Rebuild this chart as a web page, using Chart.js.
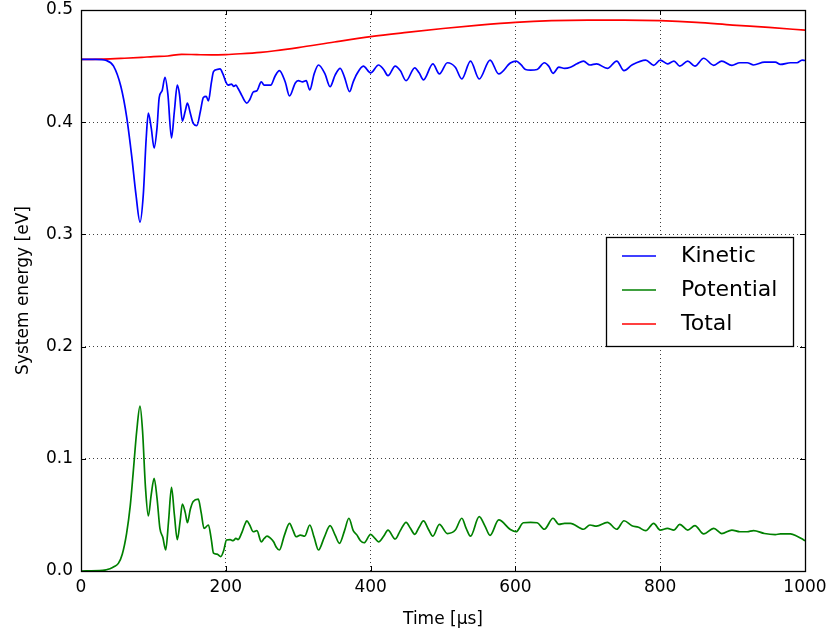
<!DOCTYPE html>
<html>
<head>
<meta charset="utf-8">
<script src="https://cdn.jsdelivr.net/npm/chart.js@4.4.1/dist/chart.umd.min.js"></script>
<style>
  html, body { margin: 0; padding: 0; background: #fff; }
  #wrap { width: 830px; height: 634px; }
</style>
</head>
<body>
<div id="wrap"><canvas id="energyChart" width="830" height="634"></canvas></div>
<script>
// System energy vs time

const kineticTime = [0, 20, 35, 45, 55, 63, 70, 76, 81.5, 86, 90, 93, 97, 101, 105, 108, 112, 116, 120, 125,
  129, 133, 136, 140, 144, 147, 151, 155, 160, 165, 169, 173, 176, 180, 183, 188, 192, 196, 200, 203,
  208, 211, 214, 217, 222, 226, 229, 233, 238, 243, 249, 253, 257, 262, 268, 274, 282, 288, 296, 300,
  306, 311, 316, 322, 328, 337, 344, 351, 358, 364, 371, 376, 381, 390, 400, 411, 418, 424, 434, 441,
  449, 461, 467, 473, 486, 495, 506, 517, 526, 538, 550, 565, 577, 593, 601, 608, 614, 621, 630, 640,
  646, 652, 660, 668, 676, 685, 694, 703, 712, 727, 740, 750, 761, 780, 791, 800, 810, 819, 827, 838,
  848, 860, 874, 885, 899, 910, 920, 929, 944, 959, 966, 980, 989, 996, 1000];
const kinetic = [0.456, 0.456, 0.455, 0.450, 0.432, 0.405, 0.370, 0.335, 0.311, 0.335, 0.385, 0.408, 0.395, 0.377, 0.395, 0.422, 0.428, 0.440, 0.425, 0.386,
  0.410, 0.433, 0.425, 0.401, 0.410, 0.417, 0.408, 0.399, 0.397, 0.410, 0.422, 0.423, 0.419, 0.435, 0.445, 0.447, 0.4475, 0.443, 0.436, 0.433,
  0.434, 0.432, 0.433, 0.430, 0.424, 0.419, 0.417, 0.420, 0.427, 0.428, 0.436, 0.433, 0.433, 0.433, 0.441, 0.446, 0.436, 0.4234, 0.435, 0.437,
  0.436, 0.437, 0.4287, 0.443, 0.451, 0.443, 0.4316, 0.442, 0.448, 0.440, 0.4272, 0.436, 0.443, 0.450, 0.444, 0.451, 0.447, 0.4415, 0.450, 0.446,
  0.437, 0.4485, 0.444, 0.4377, 0.4519, 0.443, 0.453, 0.449, 0.4385, 0.4545, 0.4385, 0.4554, 0.443, 0.4527, 0.4544, 0.451, 0.447, 0.4465, 0.447, 0.453,
  0.450, 0.4436, 0.449, 0.448, 0.449, 0.452, 0.4545, 0.451, 0.452, 0.448, 0.4545, 0.446, 0.451, 0.4554, 0.4507, 0.4554, 0.452, 0.4545, 0.450, 0.4545,
  0.450, 0.457, 0.4507, 0.4545, 0.4507, 0.453, 0.453, 0.451, 0.4535, 0.4535, 0.4515, 0.453, 0.453, 0.4554, 0.455];

const potentialTime = [0, 30, 40, 46, 51.6, 57, 63, 68, 72, 77, 81.5, 85, 89, 93, 97, 101, 105, 109, 113, 117,
  121, 125, 129, 133, 137, 140, 144, 147, 151, 155, 162, 166, 170, 176, 180, 183, 188, 193, 197, 201,
  206, 210, 214, 217, 222, 226, 229, 233, 238, 243, 249, 253, 257, 262, 266, 270, 274, 281, 288, 293,
  297, 303, 309, 316, 322, 328, 336, 344, 351, 357, 364, 370, 376, 381, 386, 391, 400, 406, 411, 418,
  424, 434, 441, 449, 455, 461, 467, 473, 480, 486, 495, 506, 517, 526, 532, 538, 550, 558, 565, 577,
  593, 601, 611, 621, 630, 640, 652, 660, 668, 676, 694, 703, 712, 727, 740, 750, 761, 770, 780, 791,
  800, 810, 819, 827, 838, 848, 860, 874, 885, 899, 910, 920, 929, 944, 959, 966, 980, 989, 995, 1000];
const potential = [0.0, 0.0005, 0.002, 0.004, 0.0068, 0.015, 0.0336, 0.058, 0.087, 0.125, 0.147, 0.125, 0.075, 0.049, 0.068, 0.0826, 0.065, 0.038, 0.030, 0.0187,
  0.045, 0.0746, 0.050, 0.028, 0.045, 0.0597, 0.052, 0.043, 0.055, 0.062, 0.064, 0.052, 0.038, 0.041, 0.028, 0.016, 0.015, 0.0128, 0.018, 0.0276,
  0.028, 0.027, 0.029, 0.028, 0.034, 0.041, 0.0446, 0.041, 0.035, 0.036, 0.026, 0.029, 0.031, 0.029, 0.026, 0.021, 0.0187, 0.032, 0.0425, 0.036,
  0.0306, 0.032, 0.031, 0.041, 0.030, 0.0187, 0.030, 0.0404, 0.032, 0.0247, 0.036, 0.047, 0.036, 0.0322, 0.027, 0.0252, 0.0327, 0.029, 0.026, 0.031,
  0.0365, 0.0285, 0.036, 0.0434, 0.038, 0.0327, 0.039, 0.0446, 0.037, 0.031, 0.0416, 0.0334, 0.0365, 0.047, 0.038, 0.031, 0.0484, 0.040, 0.0318, 0.0455,
  0.037, 0.035, 0.043, 0.0434, 0.043, 0.0372, 0.047, 0.0416, 0.0425, 0.0425, 0.0372, 0.041, 0.040, 0.0434, 0.0372, 0.0448, 0.0404, 0.039, 0.0359, 0.0425,
  0.0365, 0.038, 0.0365, 0.0416, 0.0365, 0.0404, 0.033, 0.038, 0.0334, 0.0365, 0.035, 0.035, 0.036, 0.0334, 0.0325, 0.033, 0.033, 0.031, 0.029, 0.027];

const totalTime = [0, 30, 60, 84, 100, 120, 139, 160, 180, 200, 220, 248, 268, 300, 350, 400, 450, 500, 550, 600,
  650, 700, 750, 800, 850, 900, 950, 1000];
const total = [0.456, 0.4562, 0.457, 0.4578, 0.4585, 0.459, 0.4605, 0.4602, 0.4600, 0.4603, 0.4610, 0.4623, 0.4637, 0.4665, 0.4715, 0.4762, 0.4800, 0.4835, 0.4865, 0.4890,
  0.4905, 0.4910, 0.4910, 0.4905, 0.4890, 0.4866, 0.4845, 0.4820];

const seriesLabels = ['Kinetic', 'Potential', 'Total'];
const seriesColors = ['#0000ff', '#008000', '#ff0000'];
const xTicks = [0, 200, 400, 600, 800, 1000];
const yTicks = [0.0, 0.1, 0.2, 0.3, 0.4, 0.5];

const FONT = 'DejaVu Sans';

function toPoints(xs, ys) {
  return xs.map(function(x, i) { return { x: x, y: ys[i] }; });
}

// frame around the plot + inward ticks on all four sides
const frameTicks = {
  id: 'frameTicks',
  afterDatasetsDraw(chart) {
    const ctx = chart.ctx;
    const a = chart.chartArea;
    const xs = chart.scales.x, ys = chart.scales.y;
    ctx.save();
    ctx.strokeStyle = '#000';
    ctx.lineWidth = 1;
    ctx.beginPath();
    xTicks.forEach(function(v) {
      const px = Math.round(xs.getPixelForValue(v)) + 0.5;
      ctx.moveTo(px, a.bottom); ctx.lineTo(px, a.bottom - 5);
      ctx.moveTo(px, a.top); ctx.lineTo(px, a.top + 5);
    });
    yTicks.forEach(function(v) {
      const py = Math.round(ys.getPixelForValue(v)) + 0.5;
      ctx.moveTo(a.left, py); ctx.lineTo(a.left + 5, py);
      ctx.moveTo(a.right, py); ctx.lineTo(a.right - 5, py);
    });
    ctx.stroke();
    ctx.lineWidth = 1.3;
    ctx.strokeRect(Math.round(a.left) + 0.5, Math.round(a.top) + 0.5,
      Math.round(a.right - a.left), Math.round(a.bottom - a.top));
    ctx.restore();
  }
};

// legend box drawn inside the plot, right side
const boxLegend = {
  id: 'boxLegend',
  afterDraw(chart) {
    const ctx = chart.ctx;
    const a = chart.chartArea;
    const bx = a.right - 199, by = 237, bw = 187, bh = 109;
    ctx.save();
    ctx.fillStyle = '#fff';
    ctx.fillRect(bx, by, bw, bh);
    ctx.strokeStyle = '#000';
    ctx.lineWidth = 1.3;
    ctx.strokeRect(bx + 0.5, by + 0.5, bw, bh);
    ctx.font = '22px "' + FONT + '"';
    ctx.textBaseline = 'middle';
    ctx.fillStyle = '#000';
    chart.data.datasets.forEach(function(ds, i) {
      const cy = by + 19 + i * 34;
      ctx.strokeStyle = ds.borderColor;
      ctx.lineWidth = 1.7;
      ctx.beginPath();
      ctx.moveTo(bx + 16, cy);
      ctx.lineTo(bx + 50, cy);
      ctx.stroke();
      ctx.fillText(ds.label, bx + 75, cy);
    });
    ctx.restore();
  }
};

document.addEventListener('DOMContentLoaded', function() {
  const ctx = document.getElementById('energyChart');
  const series = [toPoints(kineticTime, kinetic), toPoints(potentialTime, potential), toPoints(totalTime, total)];

  new Chart(ctx, {
    type: 'line',
    data: {
      datasets: series.map(function(pts, i) {
        return {
          label: seriesLabels[i],
          data: pts,
          borderColor: seriesColors[i],
          borderWidth: 1.7,
          pointRadius: 0,
          fill: false,
          cubicInterpolationMode: 'monotone'
        };
      })
    },
    options: {
      responsive: false,
      animation: false,
      layout: { padding: { top: 10, right: 25, left: 0, bottom: 0 } },
      plugins: {
        legend: { display: false },
        tooltip: { enabled: false }
      },
      scales: {
        x: {
          type: 'linear',
          min: 0,
          max: 1000,
          afterFit: function(s) { s.height = 63; s.paddingLeft = 0; s.paddingRight = 0; },
          afterBuildTicks: function(s) { s.ticks = xTicks.map(function(v) { return { value: v }; }); },
          ticks: {
            color: '#000', padding: 6, font: { family: FONT, size: 17 },
            callback: function(v) { return String(v); }
          },
          grid: { color: 'rgba(0,0,0,0.75)', drawTicks: false, lineWidth: 1 },
          border: { display: false, dash: [1, 3] },
          title: { display: true, text: 'Time [μs]', color: '#000', font: { family: FONT, size: 17 }, padding: { top: 4, bottom: 4 } }
        },
        y: {
          min: 0,
          max: 0.5,
          afterFit: function(s) { s.width = 81; s.paddingTop = 0; s.paddingBottom = 0; },
          afterBuildTicks: function(s) { s.ticks = yTicks.map(function(v) { return { value: v }; }); },
          ticks: {
            color: '#000', padding: 8, font: { family: FONT, size: 17 },
            callback: function(v) { return Number(v).toFixed(1); }
          },
          grid: { color: 'rgba(0,0,0,0.75)', drawTicks: false, lineWidth: 1 },
          border: { display: false, dash: [1, 3] },
          title: { display: true, text: 'System energy [eV]', color: '#000', font: { family: FONT, size: 17 }, padding: { top: 13, bottom: 4 } }
        }
      }
    },
    plugins: [frameTicks, boxLegend]
  });
});
</script>
</body>
</html>
